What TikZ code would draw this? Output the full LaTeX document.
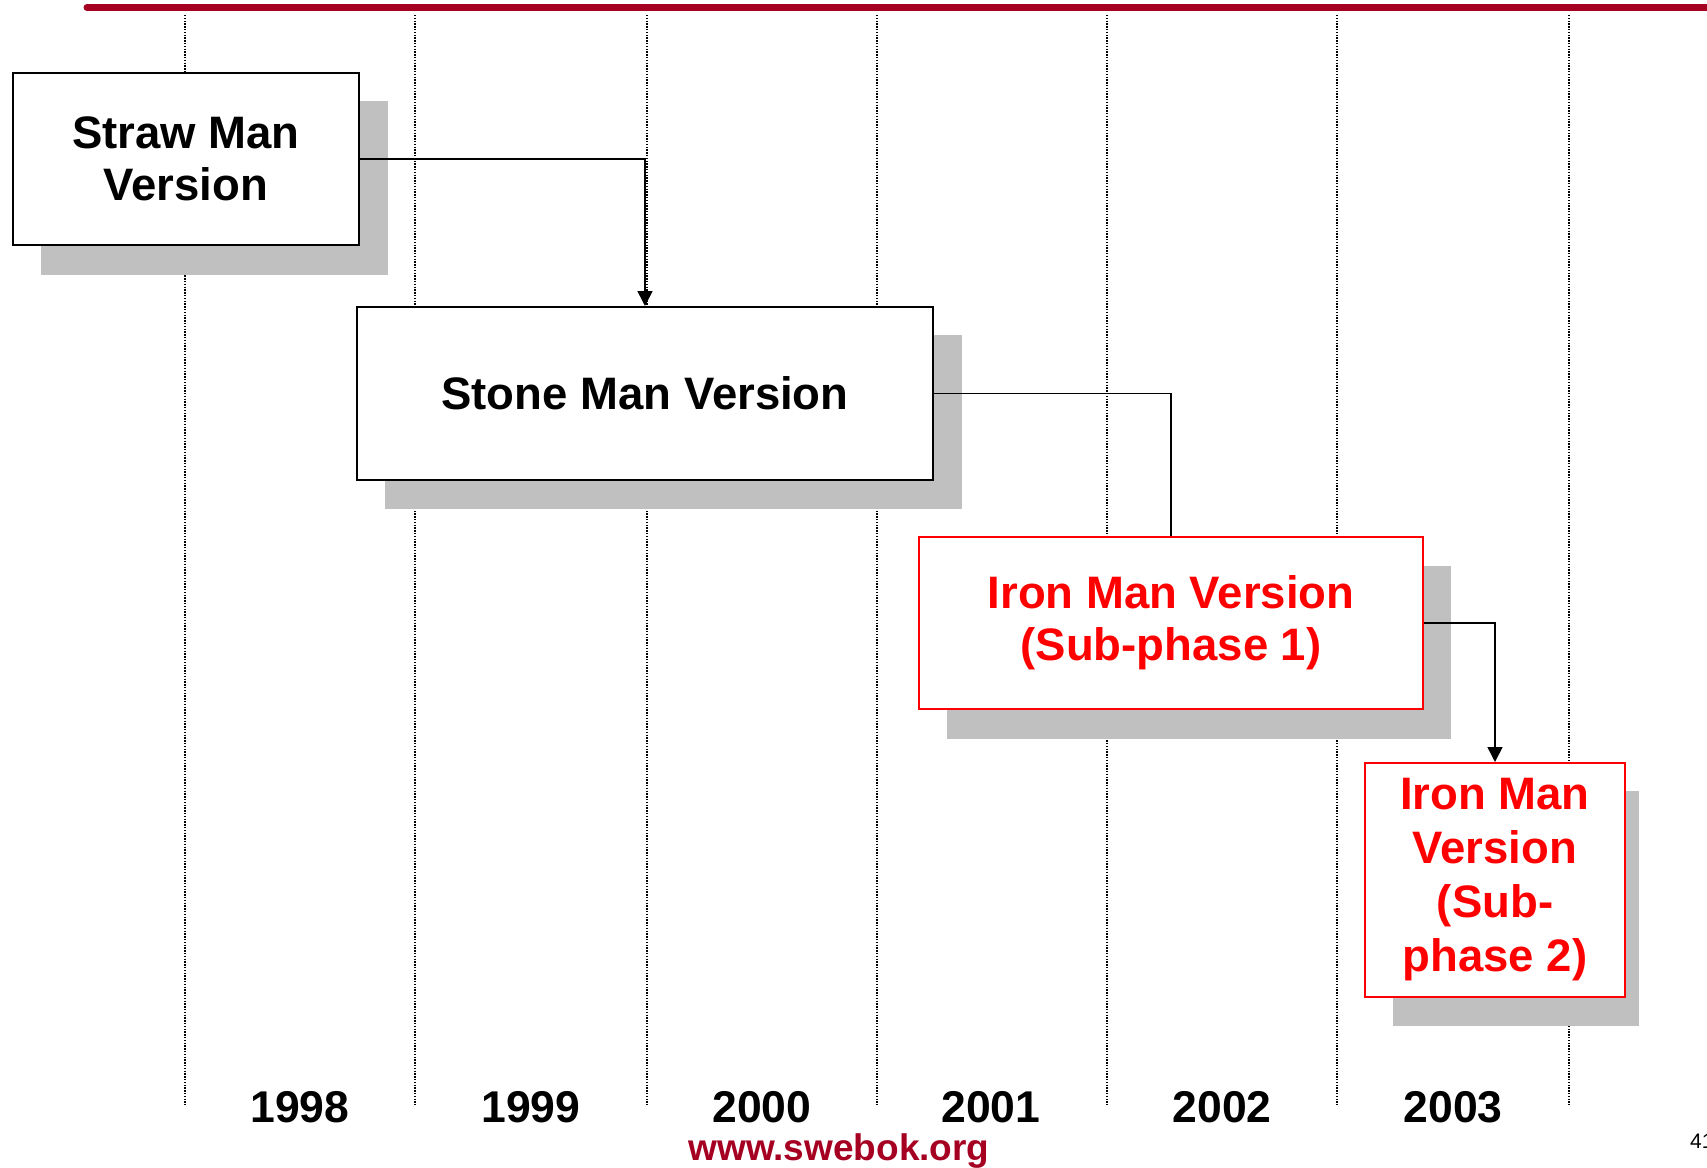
\documentclass[tikz,border=0pt]{standalone}
\usepackage{fontspec}
\setmainfont{Liberation Sans}
\usetikzlibrary{arrows.meta}
\definecolor{swered}{HTML}{A50021}
\definecolor{shadowgray}{HTML}{C0C0C0}
\definecolor{ironred}{HTML}{FF0000}
\tikzset{
  gridline/.style={line width=1.8bp, dash pattern=on 1.4bp off 1.4bp, black},
  shadowbox/.style={fill=shadowgray, draw=none},
  verbox/.style={draw=black, fill=white, line width=2bp, align=center, inner sep=0pt,
    font=\bfseries\fontsize{45.5bp}{52bp}\selectfont},
  ironbox/.style={verbox, draw=ironred, text=ironred},
  link/.style={line width=1.6bp, black},
  linkarrow/.style={link, -{Triangle[length=15bp,width=15bp]}},
  yearlabel/.style={anchor=base, inner sep=0pt, font=\bfseries\fontsize{44.5bp}{52bp}\selectfont},
}
\begin{document}
\begin{tikzpicture}[x=1bp,y=-1bp]
\useasboundingbox (0,0) rectangle (1707,1167);
% top rule
\draw[swered, line width=7bp, line cap=round] (87,7.5) -- (1720,7.5);
% dotted year separators
\foreach \x/\n in {185/a,415/b,647/c,877/d,1107/e,1337/f,1569/g}{
  \coordinate (top\n) at (\x,15);
  \coordinate (bot\n) at (\x,1105);
  \draw[gridline] (top\n) -- (bot\n);
}
% shadows
\fill[shadowbox] (41,101) rectangle (388,275);
\fill[shadowbox] (385,335) rectangle (962,509);
\fill[shadowbox] (947,566) rectangle (1451,739);
\fill[shadowbox] (1393,791) rectangle (1639,1026);
% boxes
\node[verbox, minimum width=346bp, minimum height=172bp] (straw) at (186,159) {Straw Man\\Version};
\node[verbox, minimum width=576bp, minimum height=173bp] (stone) at (645,393.5) {Stone Man Version};
\node[ironbox, minimum width=504bp, minimum height=172bp] (iron1) at (1171,623) {Iron Man Version\\(Sub-phase 1)};
\node[ironbox, minimum width=260bp, minimum height=234bp, font=\bfseries\fontsize{45.5bp}{54bp}\selectfont] (iron2) at (1495,880) {Iron Man\\Version\\(Sub-\\phase 2)};
% connectors
\draw[linkarrow] (straw.east) -| (stone.north);
\draw[link] (stone.east) -| (iron1.north);
\draw[linkarrow] (iron1.east) -| (iron2.north);
% years
\node[yearlabel] (y1998) at (300,1122) {1998};
\node[yearlabel] (y1999) at (531,1122) {1999};
\node[yearlabel] (y2000) at (762,1122) {2000};
\node[yearlabel] (y2001) at (991,1122) {2001};
\node[yearlabel] (y2002) at (1222,1122) {2002};
\node[yearlabel] (y2003) at (1453,1122) {2003};
% footer
\node[anchor=base, inner sep=0pt, text=swered, font=\bfseries\fontsize{37bp}{44bp}\selectfont] (footer) at (839,1160) {www.swebok.org};
\node[anchor=base west, inner sep=0pt, font=\fontsize{21bp}{25bp}\selectfont] (pagenum) at (1690,1148) {41};
\end{tikzpicture}
\end{document}
